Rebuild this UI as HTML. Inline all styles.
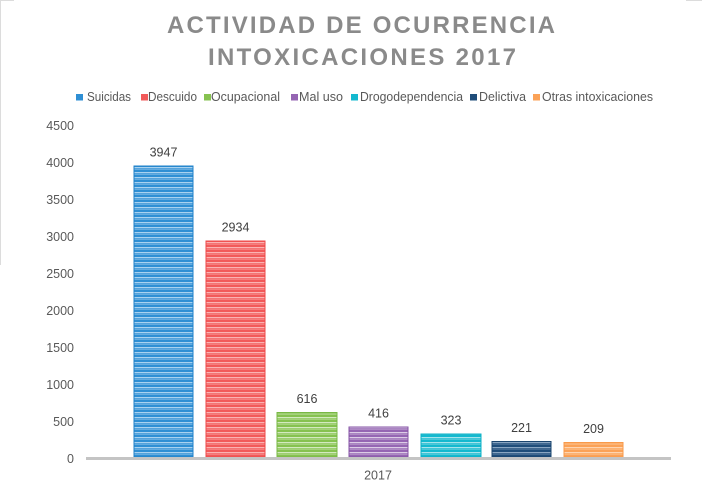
<!DOCTYPE html>
<html><head><meta charset="utf-8"><style>
html,body{margin:0;padding:0;background:#fff;}
svg{display:block;}
text{font-family:"Liberation Sans",sans-serif;}
</style></head><body>
<svg width="702" height="490" viewBox="0 0 702 490" xmlns="http://www.w3.org/2000/svg">
<defs>
<pattern id="pb" width="10" height="5" patternUnits="userSpaceOnUse"><rect width="10" height="5" fill="#2f8fd4"/><rect y="2" width="10" height="1.3" fill="#a9d2f0"/><rect y="4" width="10" height="0.7" fill="#7bb9e6"/></pattern>
<pattern id="pr" width="10" height="5" patternUnits="userSpaceOnUse"><rect width="10" height="5" fill="#f25a5a"/><rect y="2" width="10" height="1.3" fill="#fbb3b3"/><rect y="4" width="10" height="0.7" fill="#f78c8c"/></pattern>
<pattern id="pg" width="10" height="5" patternUnits="userSpaceOnUse"><rect width="10" height="5" fill="#86c250"/><rect y="2" width="10" height="1.3" fill="#d3eabf"/><rect y="4" width="10" height="0.7" fill="#b0d88c"/></pattern>
<pattern id="pp" width="10" height="5" patternUnits="userSpaceOnUse"><rect width="10" height="5" fill="#9565b3"/><rect y="2" width="10" height="1.3" fill="#dccbe6"/><rect y="4" width="10" height="0.7" fill="#b999cc"/></pattern>
<pattern id="pc" width="10" height="5" patternUnits="userSpaceOnUse"><rect width="10" height="5" fill="#14b9cf"/><rect y="2" width="10" height="1.3" fill="#a6e4ec"/><rect y="4" width="10" height="0.7" fill="#62cfdd"/></pattern>
<pattern id="pn" width="10" height="5" patternUnits="userSpaceOnUse"><rect width="10" height="5" fill="#1f4d7a"/><rect y="2" width="10" height="1.3" fill="#8aa6c2"/><rect y="4" width="10" height="0.7" fill="#4f7399"/></pattern>
<pattern id="po" width="10" height="5" patternUnits="userSpaceOnUse"><rect width="10" height="5" fill="#fba257"/><rect y="2" width="10" height="1.3" fill="#fed5b1"/><rect y="4" width="10" height="0.7" fill="#fcbb84"/></pattern>
</defs>
<rect width="702" height="490" fill="#fff"/>
<line x1="0.5" y1="0" x2="0.5" y2="265" stroke="#dcdcdc" stroke-width="1"/>
<line x1="0" y1="0.5" x2="14" y2="0.5" stroke="#dcdcdc" stroke-width="1"/>
<line x1="686" y1="0.5" x2="702" y2="0.5" stroke="#dcdcdc" stroke-width="1"/>

<text x="361" y="33" text-anchor="middle" font-size="24" font-weight="bold" fill="#8a8a8a" textLength="388" lengthAdjust="spacing">ACTIVIDAD DE OCURRENCIA</text>
<text x="362" y="65" text-anchor="middle" font-size="24" font-weight="bold" fill="#8a8a8a" textLength="308" lengthAdjust="spacing">INTOXICACIONES 2017</text>

<g font-size="12.5" fill="#595959">
<rect x="76" y="94" width="7" height="6.5" fill="#2f8fd4"/><text x="87" y="101" textLength="44" lengthAdjust="spacingAndGlyphs">Suicidas</text>
<rect x="141" y="94" width="7" height="6.5" fill="#f25a5a"/><text x="148" y="101" textLength="49" lengthAdjust="spacingAndGlyphs">Descuido</text>
<rect x="204" y="94" width="7" height="6.5" fill="#86c250"/><text x="211" y="101" textLength="69" lengthAdjust="spacingAndGlyphs">Ocupacional</text>
<rect x="291" y="94" width="7" height="6.5" fill="#9565b3"/><text x="299" y="101" textLength="44" lengthAdjust="spacingAndGlyphs">Mal uso</text>
<rect x="351" y="94" width="7" height="6.5" fill="#14b9cf"/><text x="360" y="101" textLength="103" lengthAdjust="spacingAndGlyphs">Drogodependencia</text>
<rect x="470" y="94" width="7" height="6.5" fill="#1f4d7a"/><text x="479" y="101" textLength="47" lengthAdjust="spacingAndGlyphs">Delictiva</text>
<rect x="533" y="94" width="7" height="6.5" fill="#fba257"/><text x="542" y="101" textLength="111" lengthAdjust="spacingAndGlyphs">Otras intoxicaciones</text>
</g>

<g font-size="12.5" fill="#595959" text-anchor="end">
<text x="74" y="130">4500</text>
<text x="74" y="167">4000</text>
<text x="74" y="204">3500</text>
<text x="74" y="241">3000</text>
<text x="74" y="278">2500</text>
<text x="74" y="315">2000</text>
<text x="74" y="352">1500</text>
<text x="74" y="389">1000</text>
<text x="74" y="426">500</text>
<text x="74" y="463">0</text>
</g>

<g>
<rect x="134" y="166" width="59" height="291" fill="url(#pb)" stroke="#1f80c8" stroke-width="1"/>
<rect x="206" y="241" width="59" height="216" fill="url(#pr)" stroke="#ee4a4a" stroke-width="1"/>
<rect x="277" y="412.5" width="60" height="44.5" fill="url(#pg)" stroke="#78b844" stroke-width="1"/>
<rect x="349" y="427" width="59" height="30" fill="url(#pp)" stroke="#8553a6" stroke-width="1"/>
<rect x="421" y="434" width="60" height="23" fill="url(#pc)" stroke="#0bb0c6" stroke-width="1"/>
<rect x="492" y="441.5" width="59" height="15.5" fill="url(#pn)" stroke="#1a446e" stroke-width="1"/>
<rect x="564" y="442.5" width="59" height="14.5" fill="url(#po)" stroke="#f99a4a" stroke-width="1"/>
</g>

<rect x="86" y="457" width="585" height="3" fill="#c4c4c4"/>

<g font-size="12.5" fill="#404040" text-anchor="middle">
<text x="163.5" y="156.5">3947</text>
<text x="235.5" y="231.5">2934</text>
<text x="307" y="403">616</text>
<text x="378.5" y="417.5">416</text>
<text x="451" y="424.5">323</text>
<text x="521.5" y="432">221</text>
<text x="593.5" y="433">209</text>
<text x="378" y="479.5" fill="#595959">2017</text>
</g>
</svg>
</body></html>
